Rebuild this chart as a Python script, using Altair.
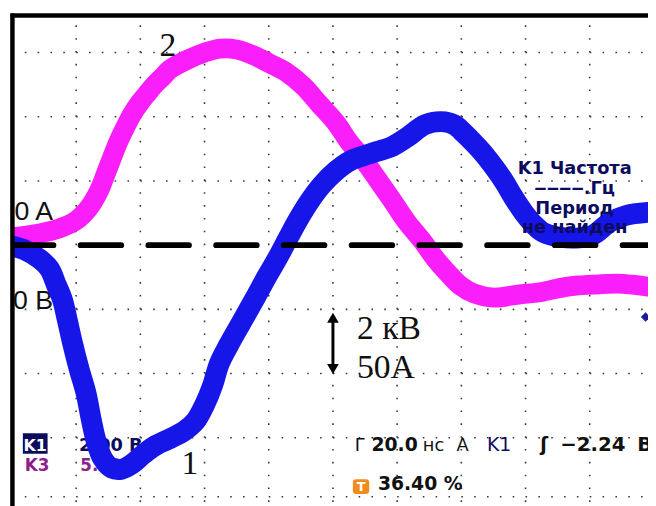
import altair as alt
import pandas as pd

# ---------------- data ----------------
# channel 1 (voltage, kV) ; time in ns from the left edge of the screen
t_u = [0.0, 4.0, 8.6, 11.7, 13.8, 15.7, 17.2, 18.8, 20.9, 23.1, 24.6, 26.2, 28.3, 31.1,
       34.2, 37.2, 40.9, 44.6, 49.2, 53.8, 57.2, 60.0, 62.5, 64.6, 67.7, 71.7, 75.7,
       79.4, 83.1, 86.2, 89.2, 92.6, 96.6, 100.9, 105.2, 109.2, 113.8, 118.5, 123.4,
       128.6, 133.8, 137.8, 140.9, 144.0, 147.1, 150.2, 153.2, 156.3, 159.4, 162.5,
       165.5, 170.8, 175.7, 180.9, 186.2, 191.1, 198.2]
u_kV = [-0.03, -0.15, -0.43, -0.74, -1.23, -1.69, -2.31, -3.02, -3.85, -4.62, -5.38,
        -6.09, -6.65, -6.95, -6.98, -6.83, -6.52, -6.25, -6.03, -5.78, -5.48, -4.98,
        -4.37, -3.69, -3.08, -2.37, -1.66, -0.98, -0.34, 0.25, 0.80, 1.35, 1.88, 2.31,
        2.62, 2.77, 2.92, 3.08, 3.38, 3.75, 3.85, 3.75, 3.48, 3.17, 2.83, 2.43, 2.00,
        1.48, 1.02, 0.65, 0.40, 0.25, 0.22, 0.31, 0.71, 0.92, 1.02]

# channel 3 (current, A)
t_i = [0.0, 8.6, 14.8, 20.0, 24.0, 27.1, 29.2, 31.1, 33.2, 35.4, 37.5, 40.0, 42.5, 44.6,
       47.1, 49.2, 54.8, 60.0, 64.9, 70.2, 75.4, 80.3, 85.5, 90.8, 95.7, 100.9, 104.9,
       109.2, 113.8, 118.5, 123.1, 127.7, 131.7, 135.7, 139.7, 144.0, 150.2, 157.8,
       165.5, 173.2, 180.9, 188.6, 193.2, 198.2]
i_A = [6.2, 9.2, 13.1, 19.2, 29.2, 42.3, 55.4, 67.7, 80.8, 92.3, 102.3, 111.5, 119.2,
       125.4, 131.5, 136.9, 144.6, 150.0, 153.1, 152.3, 147.7, 141.5, 134.6, 123.8,
       110.0, 95.4, 80.8, 67.7, 51.5, 34.6, 17.7, 3.8, -10.0, -21.5, -31.5, -37.7,
       -40.8, -38.5, -36.2, -32.3, -30.8, -30.0, -30.8, -32.3]

NS_PER_DIV = 20.0   # Г 20.0нс
KV_PER_DIV = 2.0    # 2 кВ
A_PER_DIV = 50.0    # 50A
TRIG_KV = -2.24     # K1 trigger level

grid_t = [20, 40, 60, 80, 100, 120, 140, 160, 180]
grid_d = [3, 2, 1, -1, -2, -3, -3.92]

# ---------------- layout ----------------
PX = 65.0
W, H = 648, 498
x_dom = [-4 / PX * NS_PER_DIV, (W - 4) / PX * NS_PER_DIV]
y_dom = [(237 - H) / PX, 237 / PX]
xs = alt.Scale(domain=x_dom, nice=False, zero=False)
ys = alt.Scale(domain=y_dom, nice=False, zero=False)
X = alt.X("t:Q", scale=xs, axis=None)
Y = alt.Y("d:Q", scale=ys, axis=None)

u_df = pd.DataFrame({"t": t_u, "d": [v / KV_PER_DIV for v in u_kV]})
i_df = pd.DataFrame({"t": t_i, "d": [v / A_PER_DIV for v in i_A]})

top_d = (245 - 12.5) / PX
left_t = 0.15

hgrid = alt.Chart(pd.DataFrame({"d": grid_d, "t": 0.0, "t2": 200.0})).mark_rule(
    color="#3a3a3a", strokeWidth=1.6, strokeDash=[1.6, 11.4]
).encode(x=X, x2="t2:Q", y=Y)
vgrid = alt.Chart(pd.DataFrame({"t": grid_t, "d": -4.0, "d2": top_d})).mark_rule(
    color="#3a3a3a", strokeWidth=1.6, strokeDash=[1.6, 11.4]
).encode(x=X, y=Y, y2="d2:Q")


def txt(rows, **style):
    df = pd.DataFrame(rows, columns=["t", "d", "label"])
    return alt.Chart(df).mark_text(**style).encode(x=X, y=Y, text="label:N")


SANS = "DejaVu Sans"
NAVY = "#0c0c5e"
PURP = "#8c1f8c"
INK = "#111111"
ROW = -3.2

lbl_0A = txt([[12.8, 0.385, "0 A"], [12.8, -1.0, "0 B"]], font="Liberation Sans",
             fontSize=27, align="right", baseline="alphabetic", color=INK)

k1_box = alt.Chart(pd.DataFrame({"t": [3.4], "t2": [11.1], "d": [-2.93], "d2": [-3.25]})).mark_rect(
    color=NAVY).encode(x=X, x2="t2:Q", y=Y, y2="d2:Q")
k1_txt = txt([[7.25, -3.2, "K1"]], font=SANS, fontSize=16, fontWeight="bold",
             color="white", align="center", baseline="alphabetic")
k1_val = txt([[20.9, -3.2, "2.00 В"]], font=SANS, fontSize=18, fontWeight="bold",
             color=NAVY, align="left", baseline="alphabetic")
k3_txt = txt([[4.0, -3.52, "K3"], [21.3, -3.52, "5.00 В"]], font=SANS, fontSize=17,
             fontWeight="bold", color=PURP, align="left", baseline="alphabetic")

freq = txt([[175.3, 1.11, "K1 Частота"], [175.3, 0.80, "‒‒‒‒.Гц"],
            [175.3, 0.49, "Период"], [175.3, 0.185, "не найден"]],
           font=SANS, fontSize=18, fontWeight="bold", color=NAVY,
           align="center", baseline="alphabetic")

row_norm = txt([[106.8, ROW, "Г"], [128.0, ROW, "нс"], [138.5, ROW, "А"]],
               font=SANS, fontSize=18, color=INK, align="left", baseline="alphabetic")
row_bold = txt([[112.0, ROW, "20.0"], [164.6, ROW, "ʃ"], [114.0, -3.815, "36.40 %"]],
               font=SANS, fontSize=19, fontWeight="bold", color=INK,
               align="left", baseline="alphabetic")
row_volt = txt([[170.8, ROW, "−2.24"], [194.8, ROW, "В"]], font=SANS, fontSize=20,
               fontWeight="bold", color=INK, align="left", baseline="alphabetic")
row_k1 = txt([[148.0, ROW, "K1"]], font=SANS, fontSize=19, color=NAVY,
             align="left", baseline="alphabetic")

t_box = alt.Chart(pd.DataFrame({"t": [106.2], "t2": [111.3], "d": [-3.646], "d2": [-3.877]})).mark_rect(
    color="#ef8c1d", cornerRadius=3).encode(x=X, x2="t2:Q", y=Y, y2="d2:Q")
t_lbl = txt([[108.75, -3.83, "T"]], font=SANS, fontSize=13, fontWeight="bold",
            color="white", align="center", baseline="alphabetic")

i_line = alt.Chart(i_df).mark_line(color="#fa1efa", strokeWidth=20, interpolate="catmull-rom",
                                   strokeCap="round", strokeJoin="round").encode(x=X, y=Y, order="t:Q")
u_line = alt.Chart(u_df).mark_line(color="#1616e8", strokeWidth=21, interpolate="catmull-rom",
                                   strokeCap="round", strokeJoin="round").encode(x=X, y=Y, order="t:Q")

zero = alt.Chart(pd.DataFrame({"t": [0.3], "t2": [200.0], "d": [0.0]})).mark_rule(
    color="black", strokeWidth=6, strokeDash=[41, 27.6], strokeCap="round"
).encode(x=X, x2="t2:Q", y=Y)

mask = alt.Chart(pd.DataFrame({"t": [-2.0], "t2": [left_t], "d": [-5.0], "d2": [5.0]})).mark_rect(
    color="white").encode(x=X, x2="t2:Q", y=Y, y2="d2:Q")
frame_top = alt.Chart(pd.DataFrame({"t": [left_t - 0.6], "t2": [200.0], "d": [top_d]})).mark_rule(
    color="black", strokeWidth=4.5).encode(x=X, x2="t2:Q", y=Y)
frame_left = alt.Chart(pd.DataFrame({"t": [left_t], "d": [-5.0], "d2": [top_d + 0.03]})).mark_rule(
    color="black", strokeWidth=4.5).encode(x=X, y=Y, y2="d2:Q")

trig = alt.Chart(pd.DataFrame({"t": [197.4], "d": [TRIG_KV / KV_PER_DIV]})).mark_point(
    shape="diamond", filled=True, size=90, color="#1a1aa0", opacity=1).encode(x=X, y=Y)

nums = txt([[48.6, 2.95, "2"], [55.4, -3.57, "1"]], font="Liberation Serif", fontSize=34,
           color=INK, align="center", baseline="alphabetic")
scale_txt = txt([[107.5, -1.46, "2 кВ"], [107.5, -2.07, "50A"]], font="Liberation Serif",
                fontSize=34, color=INK, align="left", baseline="alphabetic")
arrow = alt.Chart(pd.DataFrame({"t": [100.0], "d": [-1.12], "d2": [-1.94]})).mark_rule(
    color="black", strokeWidth=3).encode(x=X, y=Y, y2="d2:Q")
heads = alt.Chart(pd.DataFrame({"t": [100.0, 100.0], "d": [-1.13, -1.93],
                                "s": ["triangle-up", "triangle-down"]})).mark_point(
    filled=True, size=140, color="black", opacity=1).encode(
    x=X, y=Y, shape=alt.Shape("s:N", scale=None, legend=None))

chart = alt.layer(
    hgrid, vgrid, lbl_0A, k1_box, k1_txt, k1_val, k3_txt, row_norm, row_bold, row_volt,
    row_k1, t_box, t_lbl, i_line, u_line, freq, zero, mask, frame_top, frame_left, trig,
    nums, scale_txt, arrow, heads
).properties(width=W, height=H, padding=0, autosize="none", background="white"
).configure_view(stroke=None)

chart.save("out.html", embed_options={"renderer": "svg", "actions": False})
